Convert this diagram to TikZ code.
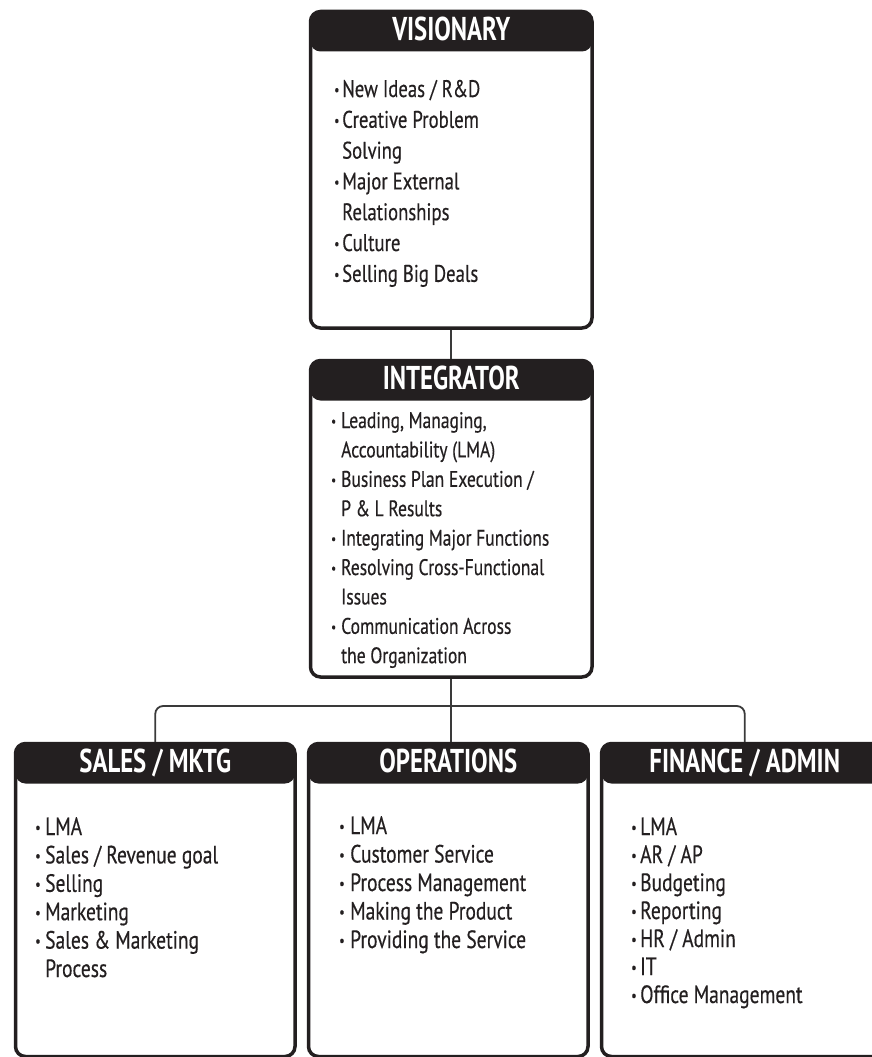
\documentclass[tikz,border=0pt]{standalone}
\usepackage{fontspec}
\usepackage{graphicx}
\setmainfont{PT Sans}
\newfontfamily\bodyf[FakeStretch=0.78,FakeBold=0.4]{PT Sans}
\newfontfamily\headf[FakeStretch=0.75]{PT Sans}
\usetikzlibrary{calc}
\definecolor{boxblack}{HTML}{231F20}
\definecolor{connc}{HTML}{3A3A3A}
\newcommand\bul[1][10pt]{\makebox[#1][l]{\raisebox{0.09em}{\scalebox{0.62}{\textbullet}}}}
\tikzset{
  orgbox/.style={draw=boxblack, line width=3.5pt, rounded corners=10pt, fill=white,
    inner sep=0pt, anchor=north west,
    path picture={\fill[boxblack] (path picture bounding box.north west) rectangle ([yshift=-40pt]path picture bounding box.north east);}},
  titletext/.style={text=white, font=\headf\bfseries\fontsize{33}{33}\selectfont, inner sep=0pt, anchor=base},
  bodytext/.style={text=boxblack, inner sep=0pt, anchor=base west},
  conn/.style={draw=connc, line width=1.8pt}
}
\begin{document}
\begin{tikzpicture}[x=1pt,y=-1pt]
\useasboundingbox (0,0) rectangle (872,1057);
\clip (0,0) rectangle (872,1057);
% boxes
\node[orgbox, minimum width=281.5pt, minimum height=316.5pt] (vis) at (308.75,9.75) {};
\node[orgbox, minimum width=281.5pt, minimum height=316.5pt] (int) at (308.75,358.75) {};
\node[orgbox, minimum width=279.5pt, minimum height=313pt] (sales) at (13.75,741.75) {};
\node[orgbox, minimum width=279.5pt, minimum height=313pt] (ops) at (306.75,741.75) {};
\node[orgbox, minimum width=286.5pt, minimum height=313pt] (fin) at (599.75,741.75) {};
% titles
\node[titletext] (vist) at ($(vis.north)+(0,30.5)$) {VISIONARY};
\node[titletext] (intt) at ($(int.north)+(0,31)$) {INTEGRATOR};
\node[titletext] (salest) at ($(sales.north)+(0,30.5)$) {SALES / MKTG};
\node[titletext] (opst) at ($(ops.north)+(0,30.5)$) {OPERATIONS};
\node[titletext] (fint) at ($(fin.north)+(0,30.5)$) {FINANCE / ADMIN};
% bodies
\node[bodytext, font=\bodyf\fontsize{24}{30.8}\selectfont] (visb) at (334,97) {%
\begin{tabular}[t]{@{}l@{}l@{}}
\bul[8pt] & New Ideas / R\&D\\
\bul[8pt] & Creative Problem\\
 & Solving\\
\bul[8pt] & Major External\\
 & Relationships\\
\bul[8pt] & Culture\\
\bul[8pt] & Selling Big Deals
\end{tabular}};
\node[bodytext, font=\bodyf\fontsize{22.5}{29.4}\selectfont] (intb) at (331,428) {%
\begin{tabular}[t]{@{}l@{}l@{}}
\bul & Leading, Managing,\\
 & Accountability (LMA)\\
\bul & Business Plan Execution /\\
 & P \& L Results\\
\bul & Integrating Major Functions\\
\bul & Resolving Cross-Functional\\
 & Issues\\
\bul & Communication Across\\
 & the Organization
\end{tabular}};
\node[bodytext, font=\bodyf\fontsize{25}{28.4}\selectfont] (salesb) at (35,835) {%
\begin{tabular}[t]{@{}l@{}l@{}}
\bul & LMA\\
\bul & Sales / Revenue goal\\
\bul & Selling\\
\bul & Marketing\\
\bul & Sales \& Marketing\\
 & Process
\end{tabular}};
\node[bodytext, font=\bodyf\fontsize{25}{28.5}\selectfont] (opsb) at (339,834) {%
\begin{tabular}[t]{@{}l@{}l@{}}
\bul[11pt] & LMA\\
\bul[11pt] & Customer Service\\
\bul[11pt] & Process Management\\
\bul[11pt] & Making the Product\\
\bul[11pt] & Providing the Service
\end{tabular}};
\node[bodytext, font=\bodyf\fontsize{25}{28}\selectfont] (finb) at (631,835) {%
\begin{tabular}[t]{@{}l@{}l@{}}
\bul[9pt] & LMA\\
\bul[9pt] & AR / AP\\
\bul[9pt] & Budgeting\\
\bul[9pt] & Reporting\\
\bul[9pt] & HR / Admin\\
\bul[9pt] & IT\\
\bul[9pt] & Office Management
\end{tabular}};
% connectors
\coordinate (bus) at (449.5,706);
\draw[conn] (vis.south) -- (int.north);
\draw[conn] (int.south) -- (int.south |- ops.north);
\draw[conn, rounded corners=8pt] (sales.north) |- (bus) -| (fin.north);
\end{tikzpicture}
\end{document}
